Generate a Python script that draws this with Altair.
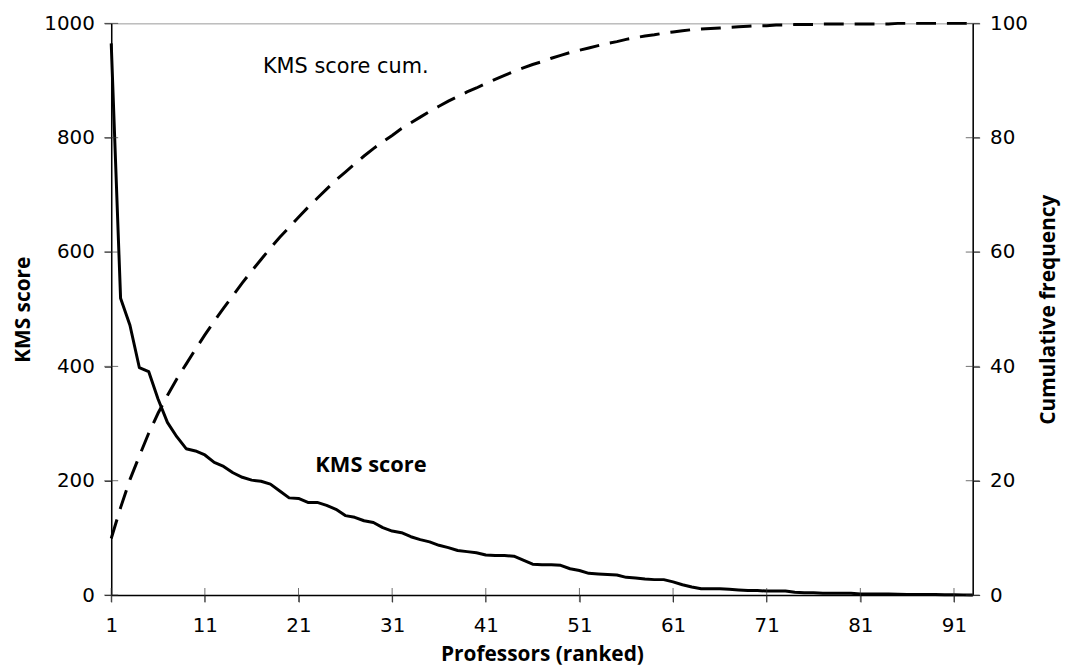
import altair as alt
import pandas as pd

# ---------------- data ----------------
rank = list(range(1, 94))
kms_score = [
    965, 519, 472, 398, 391, 343, 302, 277, 256, 252,
    245, 232, 225, 214, 206, 201, 199, 194, 182, 170,
    169, 162, 162, 157, 150, 139, 136, 130, 127, 118,
    112, 109, 102, 97, 93, 87, 83, 78, 76, 74,
    70, 69, 69, 68, 61, 54, 53, 53, 52, 46,
    43, 38, 37, 36, 35, 31, 30, 28, 27, 27,
    23, 18, 14, 11, 11, 11, 10, 9, 8, 8,
    7, 7, 7, 5, 4, 4, 3, 3, 3, 3,
    2, 2, 2, 2, 1.5, 1.2, 1, 1, 0.8, 0.6,
    0.5, 0.3, 0.2,
]
kms_cum = [
    9.9, 15.3, 20.2, 24.3, 28.3, 31.8, 34.9, 37.8, 40.4, 43.0,
    45.5, 47.9, 50.2, 52.4, 54.6, 56.7, 58.7, 60.7, 62.6, 64.3,
    66.1, 67.8, 69.4, 71.0, 72.6, 74.0, 75.4, 76.8, 78.1, 79.3,
    80.4, 81.6, 82.6, 83.6, 84.6, 85.5, 86.4, 87.2, 88.0, 88.7,
    89.5, 90.2, 90.9, 91.6, 92.2, 92.8, 93.3, 93.9, 94.4, 94.9,
    95.3, 95.7, 96.1, 96.5, 96.8, 97.2, 97.5, 97.8, 98.0, 98.3,
    98.5, 98.7, 98.9, 99.0, 99.1, 99.2, 99.3, 99.4, 99.5, 99.6,
    99.6, 99.7, 99.7, 99.8, 99.8, 99.8, 99.9, 99.9, 99.9, 99.9,
    99.9, 99.9, 99.9, 99.9, 100.0, 100.0, 100.0, 100.0, 100.0, 100.0,
    100.0, 100.0, 100.0,
]
x_ticks = [1, 11, 21, 31, 41, 51, 61, 71, 81, 91]
left_ticks = [0, 200, 400, 600, 800, 1000]
right_ticks = [0, 20, 40, 60, 80, 100]

label_plain = ["KMS score cum."]
label_plain_x = [17.2]
label_plain_y = [913]
label_bold = ["KMS score"]
label_bold_x = [22.8]
label_bold_y = [216]

# ---------------- tables ----------------
df = pd.DataFrame({"rank": rank, "score": kms_score, "cum": kms_cum})
xt = pd.DataFrame({"x": x_ticks, "y": [0] * len(x_ticks)})
lt = pd.DataFrame({"y": left_ticks})
rt = pd.DataFrame({"y": right_ticks})
ap = pd.DataFrame({"t": label_plain, "x": label_plain_x, "y": label_plain_y})
ab = pd.DataFrame({"t": label_bold, "x": label_bold_x, "y": label_bold_y})

W, H = 868, 576
FONT = "DejaVu Sans"
BOLD = "Open Sans"

x_scale = alt.Scale(domain=[1, 93], nice=False, zero=False)
yl_scale = alt.Scale(domain=[0, 1000], nice=False, zero=True)
yr_scale = alt.Scale(domain=[0, 100], nice=False, zero=True)

x_axis = alt.Axis(values=x_ticks, title="Professors (ranked)", format="d",
                  labelPadding=14, labelFlush=False, titleY=66,
                  titleBaseline="alphabetic")
left_axis = alt.Axis(values=left_ticks, title="KMS score", format="d",
                     labelPadding=10, titleAngle=270, titleX=-82, titleY=288,
                     titleBaseline="alphabetic", titleAlign="center")
right_axis = alt.Axis(orient="right", values=right_ticks, format="d",
                      title="Cumulative frequency", labelPadding=10,
                      titleAngle=270, titleX=82, titleY=288,
                      titleBaseline="alphabetic", titleAlign="center")


def X(field):
    return alt.X(field, type="quantitative", scale=x_scale, axis=x_axis)


def YL(field):
    return alt.Y(field, type="quantitative", scale=yl_scale, axis=left_axis)


def YR(field):
    return alt.Y(field, type="quantitative", scale=yr_scale, axis=right_axis)


score_line = alt.Chart(df).mark_line(
    color="black", strokeWidth=3, strokeJoin="round"
).encode(x=X("rank"), y=YL("score"))

x_tick_marks = alt.Chart(xt).mark_tick(
    orient="vertical", size=14, thickness=1, color="#333"
).encode(x=X("x"), y=YL("y"))

left_tick_marks = alt.Chart(lt).mark_tick(
    orient="horizontal", size=14, thickness=1, color="#333"
).encode(x=alt.datum(1, scale=x_scale), y=YL("y"))

text_plain = alt.Chart(ap).mark_text(
    font=FONT, fontSize=21, align="left", baseline="alphabetic", color="black"
).encode(x=X("x"), y=YL("y"), text="t:N")

text_bold = alt.Chart(ab).mark_text(
    font=BOLD, fontSize=22, fontWeight="bold", align="left",
    baseline="alphabetic", color="black"
).encode(x=X("x"), y=YL("y"), text="t:N")

left_layer = alt.layer(score_line, x_tick_marks, left_tick_marks,
                       text_plain, text_bold)

cum_line = alt.Chart(df).mark_line(
    color="black", strokeWidth=3, strokeDash=[20, 11], strokeCap="butt"
).encode(x=X("rank"), y=YR("cum"))

right_tick_marks = alt.Chart(rt).mark_tick(
    orient="horizontal", size=14, thickness=1, color="#333"
).encode(x=alt.datum(93, scale=x_scale), y=YR("y"))

right_layer = alt.layer(cum_line, right_tick_marks)

chart = alt.layer(left_layer, right_layer).resolve_scale(
    y="independent"
).properties(
    width=W, height=H,
    autosize=alt.AutoSizeParams(type="none"),
    padding={"left": 104, "top": 13, "right": 95, "bottom": 70},
).configure_axis(
    labelFont=FONT, labelFontSize=20, labelColor="black",
    titleFont=BOLD, titleFontSize=21, titleFontWeight="bold",
    titleColor="black", domainColor="black", domainWidth=1.5,
    tickColor="#333", tickSize=7, tickWidth=1, grid=False,
    labelOverlap=False,
).configure_view(stroke="#999", strokeWidth=1)

chart.save("out.html", embed_options={"renderer": "svg", "actions": False})
